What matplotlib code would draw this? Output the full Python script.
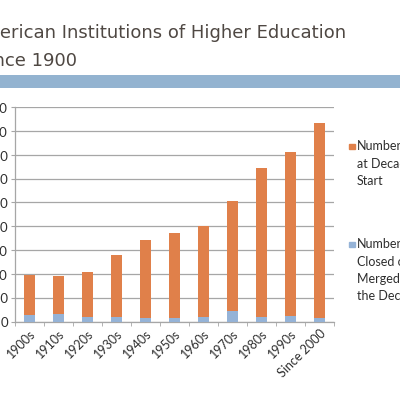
import matplotlib
matplotlib.use("Agg")
import matplotlib.pyplot as plt
import numpy as np

decades = ["1900s", "1910s", "1920s", "1930s", "1940s", "1950s",
           "1960s", "1970s", "1980s", "1990s", "Since 2000"]
# institutions closed or merged during the decade (blue, bottom segment)
closed = [140, 155, 105, 90, 75, 70, 105, 215, 90, 125, 70]
# remaining part of the count at decade start (orange, stacked on top)
at_start = [830, 795, 940, 1310, 1640, 1780, 1905, 2305, 3140, 3430, 4100]
y_ticks = [0, 500, 1000, 1500, 2000, 2500, 3000, 3500, 4000, 4500]

ORANGE = "#E0804A"
BLUE = "#95B3D7"
TITLE_COL = "#4F4843"
TEXT_COL = "#2E2E2E"
GRID_COL = "#A6A6A6"

plt.rcParams["font.family"] = ["Lato", "DejaVu Sans"]

fig = plt.figure(figsize=(4, 4), dpi=100)
fig.patch.set_facecolor("white")

# title, cut off on the left as in the slide crop
title_font = dict(ha="right", va="baseline", fontsize=13, color=TITLE_COL,
                  family=["DejaVu Sans"])
fig.text(346 / 400, 1 - 37.5 / 400, "American Institutions of Higher Education", **title_font)
fig.text(77 / 400, 1 - 65.5 / 400, "Since 1900", **title_font)

# blue band under the title
band = fig.add_axes([0, 1 - 87.5 / 400, 1, 12.5 / 400])
band.set_facecolor("#93B3D0")
band.set_xticks([])
band.set_yticks([])
for s in band.spines.values():
    s.set_visible(False)

ax = fig.add_axes([15 / 400, 1 - 321.7 / 400, 319 / 400, 214.7 / 400])
x = np.arange(len(decades))
ax.bar(x, closed, width=0.4, color=BLUE, zorder=3)
ax.bar(x, at_start, width=0.4, bottom=closed, color=ORANGE, zorder=3)

ax.set_xlim(-0.5, len(decades) - 0.5)
ax.set_ylim(0, 4500)
ax.set_yticks(y_ticks)
ax.set_yticklabels([f"{v:,}" for v in y_ticks], fontsize=9.5, color=TEXT_COL)
ax.yaxis.grid(True, color=GRID_COL, linewidth=0.9, zorder=0)
ax.set_axisbelow(True)

ax.set_xticks(x)
ax.set_xticklabels(decades, rotation=45, ha="right", rotation_mode="anchor",
                   fontsize=9, color=TEXT_COL)
ax.tick_params(axis="x", length=0, pad=4)
ax.set_xticks(np.arange(-0.5, len(decades)), minor=True)
ax.tick_params(axis="x", which="minor", length=3, color=GRID_COL, direction="out")
ax.tick_params(axis="y", length=3, color=GRID_COL, pad=2)

for side in ["top", "right"]:
    ax.spines[side].set_visible(False)
for side in ["left", "bottom"]:
    ax.spines[side].set_color(GRID_COL)
    ax.spines[side].set_linewidth(0.9)

# legend on the right, cut off by the image edge
fig.patches.append(plt.Rectangle((349 / 400, 1 - 149 / 400), 5.5 / 400, 5.5 / 400,
                                 transform=fig.transFigure, color=ORANGE))
fig.text(357 / 400, 1 - 140 / 400, "Number\nat Decade\nStart",
         ha="left", va="top", fontsize=9, color=TEXT_COL, linespacing=1.55)
fig.patches.append(plt.Rectangle((349 / 400, 1 - 247 / 400), 5.5 / 400, 5.5 / 400,
                                 transform=fig.transFigure, color=BLUE))
fig.text(357 / 400, 1 - 238 / 400, "Number\nClosed or\nMerged in\nthe Decade",
         ha="left", va="top", fontsize=9, color=TEXT_COL, linespacing=1.55)

fig.savefig("out.png", dpi=100)
